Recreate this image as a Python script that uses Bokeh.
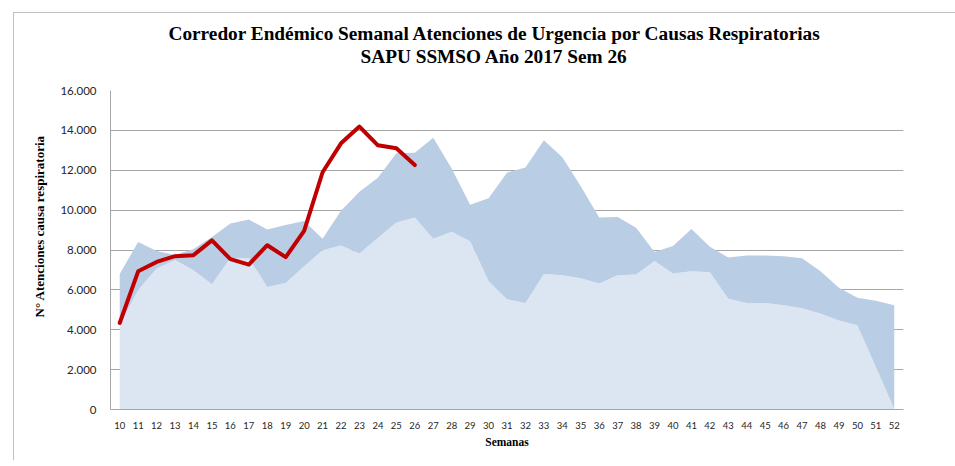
from bokeh.plotting import figure
from bokeh.models import (FixedTicker, Range1d, Legend, LegendItem, Title,
                          InlineStyleSheet)
from bokeh.embed import file_html
from bokeh.resources import INLINE

# ---------------- data ----------------
weeks = list(range(10, 53))
zona_inferior = [4250, 6000, 7070, 7500, 6990, 6280, 7600, 7600, 6150, 6350,
                 7190, 7990, 8220, 7820, 8610, 9380, 9630, 8560, 8910, 8440,
                 6450, 5530, 5340, 6800, 6730, 6580, 6320, 6730, 6770, 7450,
                 6820, 6940, 6880, 5560, 5340, 5340, 5230, 5080, 4810, 4470,
                 4220, 2130, 30]
zona_superior = [6800, 8400, 7950, 7750, 8050, 8650, 9330, 9530, 9030, 9250,
                 9460, 8560, 9970, 10920, 11620, 12850, 12880, 13630, 12090, 10270,
                 10590, 11880, 12140, 13500, 12650, 11200, 9630, 9650, 9110, 7900,
                 8200, 9050, 8160, 7620, 7720, 7720, 7690, 7590, 6930, 6110,
                 5610, 5460, 5230]
weeks_2017 = list(range(10, 27))
atenciones_2017 = [4340, 6930, 7400, 7690, 7740, 8480, 7540, 7270, 8240, 7640,
                   8960, 11900, 13350, 14190, 13250, 13100, 12260]
serie_label = "2017"
y_ticks = [0, 2000, 4000, 6000, 8000, 10000, 12000, 14000, 16000]
y_tick_labels = ["0", "2.000", "4.000", "6.000", "8.000", "10.000", "12.000", "14.000", "16.000"]
x_tick_labels = [str(w) for w in weeks]
title_line1 = "Corredor Endémico Semanal Atenciones de Urgencia por Causas Respiratorias"
title_line2 = "SAPU SSMSO  Año 2017 Sem 26"
y_title = "N° Atenciones causa respiratoria"
x_title = "Semanas"

# ---------------- figure ----------------
W, H = 955, 460
border_css = InlineStyleSheet(css="""
:host { position: relative; }
:host::after { content: ""; position: absolute; left: 13px; top: 12px; right: 0; bottom: 0;
  border-left: 1px solid #BFBFBF; border-top: 1px solid #BFBFBF;
  pointer-events: none; z-index: 10; }
""")
p = figure(width=W, height=H, output_backend="svg", toolbar_location=None,
           x_range=Range1d(9.5, 52.5), y_range=Range1d(0, 16000),
           min_border_left=110, min_border_right=W - 903,
           min_border_top=90, min_border_bottom=H - 409,
           stylesheets=[border_css])
p.outline_line_color = None
p.background_fill_color = "white"
p.border_fill_color = "white"

serif = "Liberation Serif"
title_kw = dict(text_font=serif, text_font_style="bold", text_font_size="19.3px",
                text_color="black", align="left")

# titles, stacked outward from the frame: spacer, line 2, line 1
p.add_layout(Title(text=" ", standoff=1, **title_kw), "above")
p.add_layout(Title(text=title_line2, offset=250, standoff=0, **title_kw), "above")
p.add_layout(Title(text=title_line1, offset=58, standoff=0, **title_kw), "above")

# y-axis title
p.add_layout(Title(text=y_title, align="left", offset=92, standoff=22,
                   text_font=serif, text_font_style="bold",
                   text_font_size="13px", text_color="black"), "left")

# areas
p.varea(x=weeks, y1=0, y2=zona_inferior, fill_color="#DCE6F2", fill_alpha=1)
p.varea(x=weeks, y1=zona_inferior, y2=zona_superior, fill_color="#B9CDE5", fill_alpha=1)

# 2017 line
r = p.line(weeks_2017, atenciones_2017, line_color="#C00000", line_width=4,
           line_cap="round", line_join="round")

# axes
gray = "#A6A6A6"
p.yaxis.ticker = FixedTicker(ticks=y_ticks)
p.yaxis.major_label_overrides = {t: l for t, l in zip(y_ticks, y_tick_labels)}
p.xaxis.ticker = FixedTicker(ticks=weeks)
p.xaxis.major_label_overrides = {w: l for w, l in zip(weeks, x_tick_labels)}
for ax in (p.xaxis, p.yaxis):
    ax.axis_line_color = gray
    ax.major_tick_line_color = None
    ax.minor_tick_line_color = None
    ax.major_label_text_color = "#262626"
p.yaxis.major_label_text_font = "Lato"
p.yaxis.major_label_text_font_size = "11.5px"
p.yaxis.major_label_standoff = 8
p.xaxis.major_label_text_font = "Lato"
p.xaxis.major_label_text_font_size = "9.5px"
p.xaxis.major_label_standoff = 6
p.xaxis.axis_label = x_title
p.xaxis.axis_label_text_font = serif
p.xaxis.axis_label_text_font_style = "bold"
p.xaxis.axis_label_text_color = "black"
p.xaxis.axis_label_text_font_size = "11.5px"
p.xaxis.axis_label_standoff = 4

p.xgrid.visible = False
p.ygrid.ticker = FixedTicker(ticks=y_ticks)
p.ygrid.grid_line_color = gray
p.ygrid.grid_line_width = 1

# legend
legend = Legend(items=[LegendItem(label=serie_label, renderers=[r])],
                location=(802, 269), border_line_color=None,
                background_fill_alpha=0, padding=0, margin=0,
                glyph_width=28, glyph_height=20, label_height=20,
                label_standoff=2, label_text_font="Lato",
                label_text_font_size="11px", label_text_color="#262626")
p.add_layout(legend)

open("out.html", "w").write(file_html(p, INLINE))
